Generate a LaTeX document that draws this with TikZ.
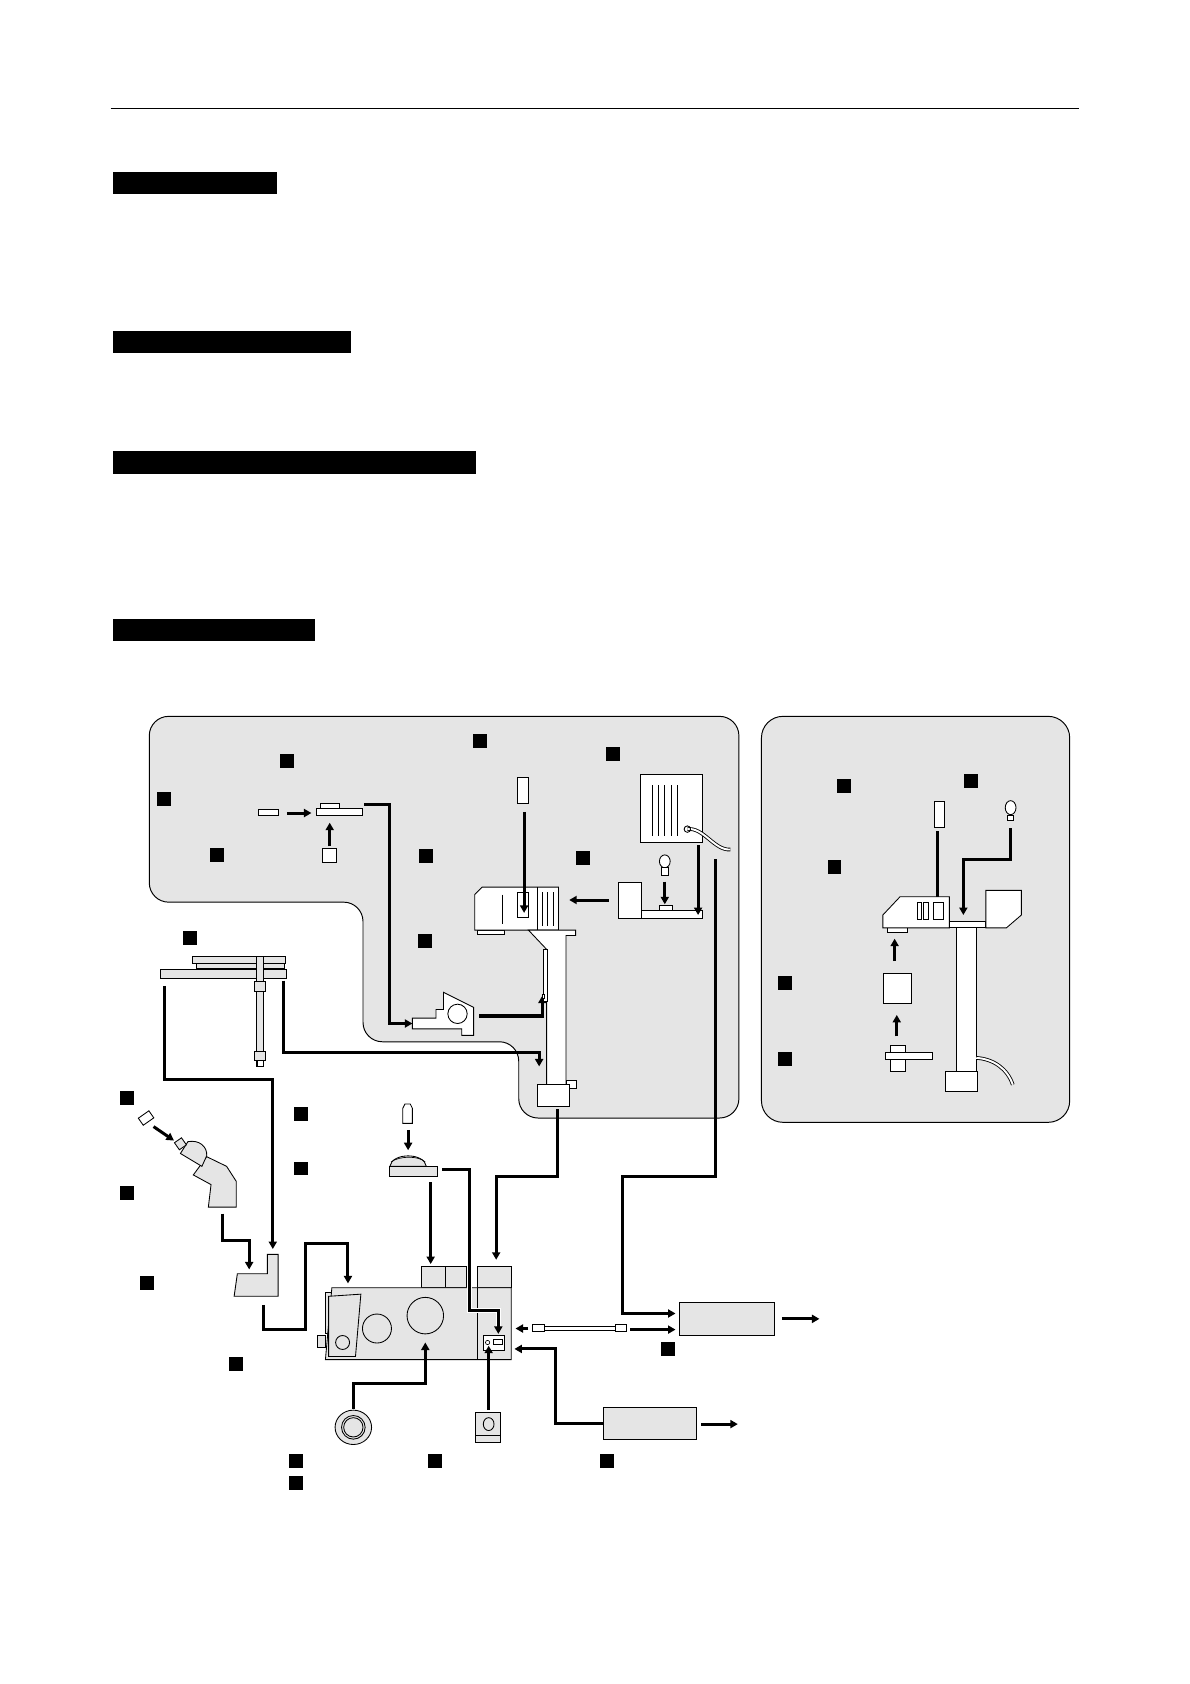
\documentclass[tikz,border=0pt]{standalone}
\usetikzlibrary{arrows.meta}
\definecolor{panelgray}{gray}{0.9}
\tikzset{
  conn/.style={line width=2.8pt,-{Triangle[length=7pt,width=7.5pt]}},
  wire/.style={line width=2.8pt},
  part/.style={draw,fill=white,line width=0.8pt},
  gpart/.style={draw,fill=panelgray,line width=0.8pt},
  tag/.style={fill=black,minimum size=13pt,inner sep=0pt},
  bar/.style={fill=black}
}
\begin{document}
\begin{tikzpicture}[x=1pt,y=-1pt]
\useasboundingbox (0,0) rectangle (1108,1568);
% header rule and title bars
\draw[line width=1pt] (103,101) -- (1005,101);
\fill[bar] (105,160) rectangle (258,181);
\fill[bar] (105,308) rectangle (327,329);
\fill[bar] (105,420) rectangle (443,441);
\fill[bar] (105,576) rectangle (293,597);

% panels
\draw[fill=panelgray,line width=0.9pt,rounded corners=18pt]
  (139,667) -- (688,667) -- (688,1041) -- (483,1041) -- (483,970)
  -- (338,970) -- (338,840) -- (139,840) -- cycle;
\draw[fill=panelgray,line width=0.9pt,rounded corners=20pt] (709,667) rectangle (996,1045);

% tags
\foreach \n/\x/\y in {a/447/690,b/267/709,c/571/702,d/153/744,e/202/796,f/397/797,
  g/543/799,h/396/876,i/177/873,j/786/732,k/904/727,l/777/807,m/731/915,n/731/986,
  o/118/1022,p/280/1037,q/280/1088,r/118/1111,s/137/1195,t/220/1270,u/622/1256,
  v/276/1360,w/276/1381,x/405/1360,y/565/1360}
  \node[tag] (tag\n) at (\x,\y) {};

% left panel: slide holder
\draw[part] (241,754) rectangle (259,759);
\draw[conn] (267,757) -- (290,757);
\draw[part] (295,753) rectangle (337,759);
\draw[part] (298,748) rectangle (316,753);
\draw[part] (300,790) rectangle (313,803);
\draw[conn] (307,788) -- (307,766);
\draw[conn] (339,749) -- (363,749) -- (363,953) -- (384,953);
% clamp
\draw[part] (384,948) -- (406,948) -- (406,940) -- (413,940) -- (413,924) -- (441,938)
  -- (441,964) -- (430,964) -- (430,958) -- (384,958) -- cycle;
\draw[part] (426,944) circle (9);
\draw[conn] (446,946) -- (505,946) -- (505,927);
% column with head
\draw[part] (445,866) rectangle (470,870);
\draw[part] (449,826) -- (520,826) -- (520,866) -- (442,866) -- (442,833) -- cycle;
\draw[line width=0.8pt] (500,826) -- (500,866);
\foreach \x in {505,510,515} \draw[line width=0.6pt] (\x,831) -- (\x,862);
\draw[line width=0.8pt] (468,833) -- (468,860);
\draw[part] (482,831) rectangle (492,854);
\draw[part] (492,866) -- (536,866) -- (536,871) -- (527,871) -- (527,1010) -- (509,1010)
  -- (509,884) -- cycle;
\draw[part] (506,884) rectangle (510,932);
\draw[part] (505,926) rectangle (507,930);
\draw[part] (527,1006) rectangle (537,1013);
\draw[part] (500,1010) rectangle (530,1030);
% filter into head
\draw[part] (482,724) rectangle (492,748);
\draw[conn] (488,756) -- (488,850);
% lamp housing
\draw[conn] (567,838) -- (530,838);
\draw[part] (576,822) rectangle (597,855);
\draw[part] (597,848) rectangle (654,855);
\draw[part] (614,843) rectangle (626,848);
\draw[part] (619,802) ellipse (5 and 6);
\draw[part] (616,808) rectangle (622,815);
\draw[conn] (619,821) -- (619,842);
% radiator with cable
\draw[part] (596,721) rectangle (654,784);
\foreach \x in {607,613,619,625,631} \draw[line width=0.6pt] (\x,731) -- (\x,778);
\draw[line width=3.4pt] (640,772) .. controls (655,770) and (665,792) .. (680,791);
\draw[white,line width=1.8pt] (640,772) .. controls (655,770) and (665,792) .. (680,791);
\draw[line width=0.8pt] (640,772) circle (3);
\draw[conn] (650,787) -- (650,852);

% right panel
\draw[part] (870,746) rectangle (879,770);
\draw[part] (941,752) ellipse (5 and 6.5);
\draw[part] (938,759) rectangle (944,764);
\draw[conn] (873,774) -- (873,852);
\draw[conn] (941,771) -- (941,800) -- (897,800) -- (897,852);
\draw[part] (826,864) rectangle (845,868);
\draw[part] (838,835) -- (884,835) -- (884,864) -- (822,864) -- (822,852) -- cycle;
\draw[part] (854,840) rectangle (858,856);
\draw[part] (860,840) rectangle (864,856);
\draw[part] (869,840) rectangle (878,856);
\draw[part] (884,858) rectangle (918,864);
\draw[part] (918,829) -- (951,829) -- (951,852) -- (937,864) -- (918,864) -- cycle;
\draw[part] (891,864) rectangle (909,998);
\draw[line width=3.4pt] (909,985) .. controls (925,986) and (938,995) .. (943,1010);
\draw[white,line width=1.8pt] (909,985) .. controls (925,986) and (938,995) .. (943,1010);
\draw[part] (880,998) rectangle (910,1016);
\draw[part] (823,906) rectangle (849,934);
\draw[conn] (833,895) -- (833,874);
\draw[conn] (835,965) -- (835,945);
\draw[part] (829,973) rectangle (843,998);
\draw[part] (824,980) rectangle (868,986);

% mechanical stage
\draw[gpart] (179,891) rectangle (266,897);
\draw[gpart] (183,897) rectangle (265,902);
\draw[gpart] (149,903) rectangle (267,911);
\draw[gpart] (239,891) rectangle (245,993);
\draw[gpart] (237,914) rectangle (247,923);
\draw[gpart] (237,979) rectangle (247,987);
\draw[part] (240,987) rectangle (245,993);
\draw[wire] (153,918) -- (153,1005) -- (254,1005);
\draw[conn] (254,1004) -- (254,1163);
\draw[conn] (264,913) -- (264,980) -- (502,980) -- (502,993);

% eyepiece and binocular head
\draw[part,rotate around={35:(136,1041)}] (130,1037) rectangle (142,1045);
\draw[conn] (143,1049) -- (162,1062);
\draw[gpart] (180,1094) -- (192.5,1077) -- (211,1086) -- (220,1100) -- (220,1124)
  -- (194,1124) -- (196.5,1103) -- cycle;
\draw[gpart] (168,1074) -- (175,1063) .. controls (186,1061) and (193,1068) .. (192.5,1076)
  -- (188,1086) -- cycle;
\draw[gpart,rotate around={35:(168,1065)}] (164,1061) rectangle (172,1069);
\draw[conn] (207,1130) -- (207,1155) -- (232,1155) -- (232,1182);
\draw[gpart] (218,1207) -- (221,1186) -- (249,1186) -- (249,1168) -- (259,1168) -- (259,1207) -- cycle;
\draw[conn] (245,1215) -- (245,1238) -- (284,1238) -- (284,1158) -- (324,1158) -- (324,1195);

% microscope body
\draw[gpart] (392,1179) rectangle (415,1199);
\draw[gpart] (415,1179) rectangle (434,1199);
\draw[gpart] (445,1179) rectangle (476,1199);
\draw[gpart] (303,1203) rectangle (309,1242);
\draw[gpart] (296,1243) rectangle (303,1255);
\draw[gpart] (309,1199) -- (476,1199) -- (476,1266) -- (303,1266) -- cycle;
\draw[line width=0.8pt] (445,1199) -- (445,1266);
\draw[gpart] (306,1207) -- (336,1205) -- (331,1263) -- (306,1263) -- cycle;
\draw[gpart] (319,1250) circle (6.5);
\draw[gpart] (351,1237) circle (13.5);
\draw[gpart] (396,1225) circle (17);
\draw[part] (450,1243) rectangle (470,1257);
\draw[line width=0.6pt] (454,1250) circle (2);
\draw[line width=0.6pt] (459,1247) rectangle (468,1252);

% objective and nosepiece
\draw[part] (375,1032) -- (377,1028) -- (382,1028) -- (384,1032) -- (384,1046) -- (375,1046) -- cycle;
\draw[conn] (380,1052) -- (380,1071);
\draw[gpart] (363,1086) .. controls (365,1073) and (395,1073) .. (397,1086) -- cycle;
\draw[line width=0.6pt] (364,1082) .. controls (372,1076) and (390,1076) .. (396,1082);
\draw[gpart] (363,1086) rectangle (407,1095);
\draw[conn] (401,1101) -- (401,1177);
\draw[line width=4.8pt,white] (412,1089) -- (437,1089) -- (437,1220) -- (464,1220) -- (464,1235);
\draw[conn] (412,1089) -- (437,1089) -- (437,1220) -- (464,1220) -- (464,1242);
\draw[conn] (519,1033) -- (519,1095) -- (462,1095) -- (462,1173);

% eyepiece ring, small box
\draw[gpart] (329,1329) ellipse (17 and 16);
\draw[gpart] (329,1329) circle (11);
\draw[line width=0.8pt] (329,1329) circle (9);
\draw[conn] (329,1312) -- (329,1288) -- (396,1288) -- (396,1250);
\draw[gpart] (443,1315) rectangle (466,1343);
\draw[line width=0.8pt] (443,1337) -- (466,1337);
\draw[line width=0.8pt] (455,1326) ellipse (5 and 6);
\draw[conn] (455,1313) -- (455,1253);

% cable and boxes
\draw[conn] (492,1237) -- (480,1237);
\draw[part] (507,1235) rectangle (573,1239);
\draw[part] (496,1233) rectangle (507,1240);
\draw[part] (573,1233) rectangle (583,1240);
\draw[conn] (587,1238) -- (629,1238);
\draw[gpart] (633,1213) rectangle (721,1243);
\draw[conn] (728,1228) -- (763,1228);
\draw[conn] (666,800) -- (666,1095) -- (580,1095) -- (580,1223) -- (629,1223);
\draw[gpart] (562,1310) rectangle (648,1340);
\draw[conn] (653,1326) -- (687,1326);
\draw[conn] (562,1325) -- (517,1325) -- (517,1256) -- (479,1256);
\end{tikzpicture}
\end{document}
